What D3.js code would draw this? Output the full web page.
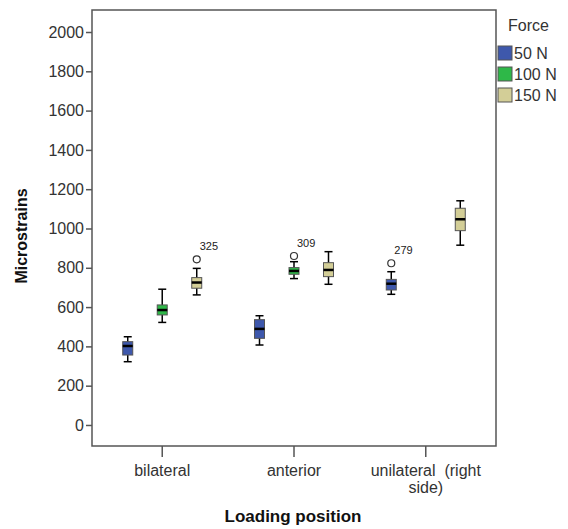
<!DOCTYPE html>
<html>
<head>
<meta charset="utf-8">
<script src="https://cdn.jsdelivr.net/npm/d3@7"></script>
<style>
  body { margin: 0; background: #fff; }
  svg { font-family: "Liberation Sans", Arial, sans-serif; }
</style>
</head>
<body>
<svg id="chart" width="568" height="529"></svg>
<script>
// loading positions (x categories) and tick labels
const positions = ["bilateral", "anterior", "unilateral"];
const positionLabels = [["bilateral"], ["anterior"], ["unilateral  (right", "side)"]];
const forces = ["50 N", "100 N", "150 N"];
const forceColors = ["#3e58ac", "#2eb848", "#d3ce97"];
const yTicks = [0, 200, 400, 600, 800, 1000, 1200, 1400, 1600, 1800, 2000];

// one entry per box
const boxPosition = ["bilateral", "bilateral", "bilateral", "anterior", "anterior", "anterior", "unilateral", "unilateral"];
const boxForce = ["50 N", "100 N", "150 N", "50 N", "100 N", "150 N", "50 N", "150 N"];
const whiskerLow = [322, 522, 662, 407, 745, 716, 665, 915];
const q1 = [356, 560, 696, 441, 767, 755, 687, 989];
const median = [402, 585, 725, 489, 784, 789, 719, 1047];
const q3 = [424, 611, 750, 536, 801, 826, 741, 1103];
const whiskerHigh = [449, 691, 797, 556, 831, 882, 780, 1141];

// outliers
const outlierPosition = ["bilateral", "anterior", "unilateral"];
const outlierForce = ["150 N", "100 N", "50 N"];
const outlierValue = [843, 860, 823];
const outlierLabel = ["325", "309", "279"];

const svg = d3.select("#chart");
const frame = { left: 92, right: 496, top: 10, bottom: 446 };

const x = d3.scaleBand()
    .domain(positions)
    .range([frame.left, frame.right])
    .paddingInner(0)
    .paddingOuter(0.033);

const xOffset = d3.scalePoint()
    .domain(forces)
    .range([-34.5, 34.5]);

const y = d3.scaleLinear()
    .domain([-107, 2112])
    .range([frame.bottom, frame.top]);

const color = d3.scaleOrdinal().domain(forces).range(forceColors);

const cx = (p, f) => x(p) + x.bandwidth() / 2 + xOffset(f);

// frame
svg.append("rect")
    .attr("x", frame.left)
    .attr("y", frame.top)
    .attr("width", frame.right - frame.left)
    .attr("height", frame.bottom - frame.top)
    .attr("fill", "none")
    .attr("stroke", "#555")
    .attr("stroke-width", 1.5);

// y axis
const yAxis = svg.append("g")
    .attr("transform", `translate(${frame.left},0)`)
    .call(d3.axisLeft(y).tickValues(yTicks).tickSize(6).tickPadding(2).tickFormat(d3.format("d")));
yAxis.select(".domain").remove();
yAxis.selectAll("line").attr("stroke", "#555").attr("stroke-width", 1.5);
yAxis.selectAll("text").attr("fill", "#333").style("font-size", "16px");

// x axis
const xAxis = svg.append("g")
    .attr("transform", `translate(0,${frame.bottom})`)
    .call(d3.axisBottom(x).tickSize(11).tickFormat(""));
xAxis.select(".domain").remove();
xAxis.selectAll("line").attr("stroke", "#555").attr("stroke-width", 1.5);
xAxis.selectAll(".tick").each(function(d, i) {
    const t = d3.select(this).append("text")
        .attr("fill", "#333")
        .attr("text-anchor", "middle")
        .style("font-size", "16px")
        .style("white-space", "pre")
        .attr("y", 30);
    positionLabels[i].forEach((line, j) => {
        t.append("tspan").attr("x", 0).attr("dy", j === 0 ? 0 : 17).text(line);
    });
});

// axis titles
svg.append("text")
    .attr("transform", "translate(27,236) rotate(-90)")
    .attr("text-anchor", "middle")
    .style("font-size", "16px")
    .style("font-weight", "bold")
    .attr("fill", "#111")
    .text("Microstrains");

svg.append("text")
    .attr("x", 293)
    .attr("y", 522)
    .attr("text-anchor", "middle")
    .style("font-size", "17px")
    .style("font-weight", "bold")
    .attr("fill", "#111")
    .text("Loading position");

// boxes
const boxes = d3.range(boxPosition.length);
const boxW = 10, capW = 4;
const g = svg.append("g");

g.selectAll(".whisker")
    .data(boxes)
    .join("line")
    .attr("x1", i => cx(boxPosition[i], boxForce[i]))
    .attr("x2", i => cx(boxPosition[i], boxForce[i]))
    .attr("y1", i => y(whiskerLow[i]))
    .attr("y2", i => y(whiskerHigh[i]))
    .attr("stroke", "#000")
    .attr("stroke-width", 1.5);

[whiskerLow, whiskerHigh].forEach(arr => {
    g.selectAll(null)
        .data(boxes)
        .join("line")
        .attr("x1", i => cx(boxPosition[i], boxForce[i]) - capW)
        .attr("x2", i => cx(boxPosition[i], boxForce[i]) + capW)
        .attr("y1", i => y(arr[i]))
        .attr("y2", i => y(arr[i]))
        .attr("stroke", "#000")
        .attr("stroke-width", 1.5);
});

g.selectAll(".box")
    .data(boxes)
    .join("rect")
    .attr("x", i => cx(boxPosition[i], boxForce[i]) - boxW / 2)
    .attr("y", i => y(q3[i]))
    .attr("width", boxW)
    .attr("height", i => y(q1[i]) - y(q3[i]))
    .attr("fill", i => color(boxForce[i]))
    .attr("stroke", "#555")
    .attr("stroke-width", 1);

g.selectAll(".median")
    .data(boxes)
    .join("line")
    .attr("x1", i => cx(boxPosition[i], boxForce[i]) - boxW / 2)
    .attr("x2", i => cx(boxPosition[i], boxForce[i]) + boxW / 2)
    .attr("y1", i => y(median[i]))
    .attr("y2", i => y(median[i]))
    .attr("stroke", "#000")
    .attr("stroke-width", 2.5);

// outliers
const outs = d3.range(outlierValue.length);
g.selectAll(".outlier")
    .data(outs)
    .join("circle")
    .attr("cx", i => cx(outlierPosition[i], outlierForce[i]))
    .attr("cy", i => y(outlierValue[i]))
    .attr("r", 3.5)
    .attr("fill", "none")
    .attr("stroke", "#333")
    .attr("stroke-width", 1.2);

g.selectAll(".outlierLabel")
    .data(outs)
    .join("text")
    .attr("x", i => cx(outlierPosition[i], outlierForce[i]) + 3)
    .attr("y", i => y(outlierValue[i]) - 9)
    .style("font-size", "11px")
    .attr("fill", "#222")
    .text(i => outlierLabel[i]);

// legend
const legend = svg.append("g").attr("transform", "translate(498,0)");
legend.append("text")
    .attr("x", 10)
    .attr("y", 31)
    .style("font-size", "16px")
    .attr("fill", "#333")
    .text("Force");
const items = legend.selectAll(".item")
    .data(forces)
    .join("g")
    .attr("transform", (d, i) => `translate(0,${46 + i * 21})`);
items.append("rect")
    .attr("width", 14)
    .attr("height", 14)
    .attr("fill", d => color(d))
    .attr("stroke", "#555");
items.append("text")
    .attr("x", 16)
    .attr("y", 13)
    .style("font-size", "16px")
    .attr("fill", "#333")
    .text(d => d);
</script>
</body>
</html>
